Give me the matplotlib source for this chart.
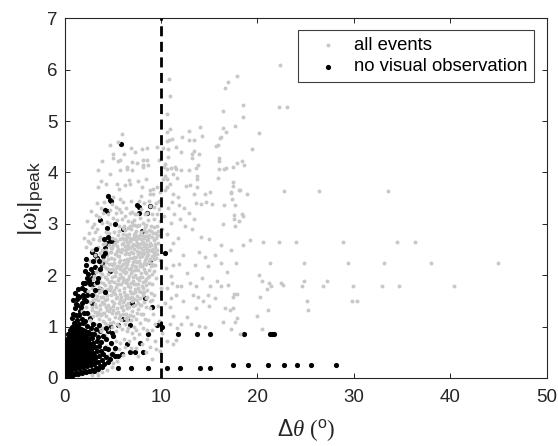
import numpy as np
import matplotlib
matplotlib.use("Agg")
import matplotlib.pyplot as plt

plt.rcParams["font.family"] = ["Liberation Sans", "DejaVu Sans"]
plt.rcParams["mathtext.fontset"] = "custom"
plt.rcParams["mathtext.rm"] = "Liberation Sans"
plt.rcParams["mathtext.it"] = "Liberation Serif:italic"
plt.rcParams["mathtext.fallback"] = "stix"

# -------------------------------------------------
# values, (delta theta, |omega|)
# -------------------------------------------------
grey_sparse = [
    (44.95, 2.24), (40.35, 1.79), (37.96, 2.24), (36.37, 2.64), (34.46, 2.64), (34.7, 1.79),
    (32.94, 1.79), (33.08, 2.24), (33.53, 3.64), (30.38, 1.5), (29.83, 1.5), (29.9, 1.79),
    (29.41, 2.24), (28.89, 2.64), (27.27, 1.88), (26.78, 1.79), (26.4, 3.64), (24.84, 1.88),
    (24.64, 1.79), (24.81, 2.24), (25.12, 1.5), (25.22, 1.32), (24.01, 2.64), (22.28, 2.64),
    (20.62, 2.64), (19.24, 2.69), (18.48, 2.58), (17.23, 2.49), (16.2, 2.58), (22.73, 3.64),
    (18.96, 3.58), (18.1, 3.65), (17.27, 3.61), (17.34, 3.49), (17.72, 3.37), (16.5, 3.36),
    (18.37, 3.2), (18.48, 3.15), (17.58, 3.17), (17.58, 3.1), (18.1, 3.06), (16.47, 2.99),
    (17.68, 2.95), (17.75, 2.24), (21.28, 2.24), (16.2, 2.24), (16.89, 2.06), (20.14, 2.0),
    (20.48, 1.88), (21.25, 1.84), (21.45, 1.79), (21.0, 1.73), (22.46, 1.84), (22.63, 1.81),
    (20.28, 1.58), (17.92, 1.64), (17.58, 1.64), (17.47, 1.58), (16.92, 1.81), (16.2, 1.79),
    (21.1, 1.32), (16.66, 1.36), (17.2, 1.32), (17.5, 1.36), (19.97, 1.2), (17.92, 1.16),
    (17.72, 1.09), (16.44, 1.09), (17.3, 0.95), (20.45, 0.95), (18.2, 0.86),
    (22.35, 6.09), (17.9, 5.87), (17.0, 5.77), (16.6, 5.65), (18.55, 5.32), (16.47, 5.19),
    (22.2, 5.27), (23.05, 5.27), (18.55, 5.08), (17.65, 4.9), (16.47, 4.87), (16.78, 4.78),
    (16.2, 4.69), (20.2, 4.77), (19.45, 4.45), (18.37, 4.23), (17.9, 4.18), (17.5, 4.1),
    (16.74, 4.08), (18.6, 4.14), (17.5, 3.81), (17.5, 3.74), (18.15, 3.66), (17.3, 3.6),
]

grey_upper = [
    (10.8, 5.81), (10.95, 5.49), (10.64, 5.13), (10.6, 4.79), (10.95, 4.85), (12.9, 4.8),
    (14.1, 4.88), (14.27, 4.7), (12.23, 4.69), (12.86, 4.63), (13.44, 4.63), (10.88, 4.63),
    (11.1, 4.65), (10.67, 4.61), (16.14, 4.67), (15.9, 4.54), (15.69, 4.51), (9.57, 4.5),
    (10.26, 4.48), (10.74, 4.45), (11.6, 4.5), (12.1, 4.39), (10.74, 4.3), (13.41, 4.41),
    (13.17, 4.35), (13.99, 4.35), (13.2, 4.28), (16.04, 4.28), (16.07, 4.22), (16.0, 4.07),
    (16.55, 4.07), (15.87, 3.89), (5.97, 4.75), (5.55, 4.6), (4.72, 4.54), (6.87, 4.48),
    (8.08, 4.45), (8.6, 4.48), (5.07, 4.35), (6.18, 4.36), (7.32, 4.39), (5.03, 4.28),
    (3.89, 4.22), (5.58, 4.22), (5.8, 4.24), (7.0, 4.2), (7.49, 4.19), (8.15, 4.25),
    (8.6, 4.25), (8.1, 4.15), (8.7, 4.14), (8.1, 4.1), (3.44, 4.05), (5.76, 4.04),
    (6.45, 4.1), (6.53, 4.06), (6.97, 4.04), (4.72, 3.97), (10.36, 4.1), (10.6, 4.07),
    (11.0, 4.09), (11.44, 4.1), (11.54, 4.06), (12.05, 4.05), (12.9, 4.04), (13.6, 4.09),
    (13.86, 4.15), (9.85, 4.24), (10.43, 4.17), (11.3, 3.97), (11.65, 3.9), (13.7, 3.94),
    (13.75, 3.88), (10.43, 3.94), (10.6, 3.87), (10.26, 3.87), (7.63, 3.83), (8.4, 3.87),
    (6.66, 3.86), (3.82, 3.84), (4.3, 3.78), (3.5, 3.71), (5.42, 3.78), (6.8, 3.78),
    (6.3, 3.75), (5.6, 3.68), (8.0, 3.71), (8.87, 3.65), (9.2, 3.68), (9.64, 3.71),
    (9.9, 3.61), (10.43, 3.65), (10.95, 3.78), (10.6, 3.71), (12.6, 3.73), (13.0, 3.75),
    (13.4, 3.58), (13.75, 3.71), (14.6, 3.59), (15.1, 3.61), (11.3, 3.58), (5.07, 3.52),
    (5.76, 3.49), (7.94, 3.55), (8.87, 3.58), (9.2, 3.58), (11.8, 3.52), (13.6, 3.4),
    (14.2, 3.38), (14.7, 3.42), (15.3, 3.38), (11.1, 3.42), (11.9, 3.36), (12.4, 3.3),
    (12.9, 3.22), (13.4, 3.1), (12.0, 3.1), (11.4, 3.2), (10.7, 3.3), (10.3, 3.15),
    (11.0, 3.02), (12.5, 2.95), (13.2, 2.9), (15.0, 2.7), (14.2, 2.75), (11.8, 2.72),
    (11.2, 2.62), (10.6, 2.8), (10.9, 2.5), (12.3, 2.4), (13.9, 2.45), (14.6, 2.35),
    (14.9, 2.18), (15.6, 2.4), (13.5, 2.2), (11.3, 2.2), (11.9, 2.22), (12.7, 2.05),
    (10.5, 2.15), (11.0, 1.98), (13.0, 1.85), (13.6, 1.8), (14.3, 1.95), (15.1, 1.8),
    (15.8, 1.88), (11.1, 1.85), (11.7, 1.8), (12.1, 1.8), (10.6, 1.75), (13.3, 1.62),
    (13.8, 1.58), (14.4, 1.5), (14.9, 1.62), (15.6, 1.55), (11.0, 1.55), (11.6, 1.62),
    (12.3, 1.5), (10.4, 1.45), (10.9, 1.38), (13.6, 1.36), (15.0, 1.4), (11.3, 1.2),
    (12.7, 1.18), (12.1, 1.06), (13.1, 1.06), (13.9, 1.02), (14.6, 1.0), (10.9, 1.05),
    (11.7, 0.98), (10.1, 0.87), (10.6, 0.72), (11.2, 0.66), (11.6, 0.74), (9.4, 0.72),
]

grey_cloud = [
    (2.3, 3.05), (2.7, 3.25), (3.1, 3.0), (3.4, 3.4), (3.8, 3.3), (4.1, 3.42),
    (4.5, 3.2), (4.9, 3.38), (5.3, 3.32), (5.7, 3.28), (6.1, 3.42), (6.4, 3.3), (6.9, 3.45),
    (7.3, 3.2), (7.7, 3.45), (8.2, 3.4), (8.6, 3.22), (8.9, 3.35), (9.3, 3.32), (9.6, 3.2),
    (9.8, 3.45), (2.0, 2.72), (2.5, 2.82), (3.0, 2.7), (3.4, 2.9), (3.7, 2.75), (3.9, 3.02),
    (4.3, 2.85), (4.7, 3.0), (5.1, 2.85), (5.4, 3.08), (5.7, 2.95), (6.0, 3.1), (6.3, 2.88),
    (6.6, 3.05), (6.9, 2.9), (7.2, 3.08), (7.5, 2.95), (7.8, 3.12), (8.1, 3.02), (8.4, 2.98),
    (8.7, 3.08), (9.0, 2.95), (9.3, 3.1), (9.6, 2.95), (9.9, 3.05), (10.1, 2.9), (9.8, 2.78),
    (9.5, 2.72), (9.2, 2.82), (8.8, 2.78), (8.5, 2.85), (8.2, 2.72), (7.9, 2.85), (7.6, 2.72),
    (7.3, 2.82), (7.0, 2.7), (6.7, 2.8), (6.4, 2.68), (6.1, 2.8), (5.8, 2.7), (5.5, 2.78),
    (5.2, 2.62), (4.9, 2.72), (4.6, 2.58), (4.2, 2.62), (3.9, 2.5), (3.5, 2.55), (3.2, 2.4),
    (2.8, 2.5), (2.2, 2.55), (4.0, 2.3), (4.4, 2.4), (4.8, 2.45), (5.1, 2.32),
    (5.4, 2.48), (5.7, 2.38), (6.0, 2.52), (6.3, 2.42), (6.6, 2.55), (6.9, 2.45), (7.2, 2.58),
    (7.5, 2.48), (7.8, 2.6), (8.1, 2.5), (8.4, 2.6), (8.7, 2.5), (9.0, 2.58), (9.3, 2.45),
    (9.6, 2.5), (8.9, 2.32), (8.6, 2.38), (8.3, 2.3), (8.0, 2.38), (7.7, 2.28), (7.4, 2.36),
    (7.1, 2.25), (6.8, 2.33), (6.5, 2.22), (6.2, 2.3), (5.9, 2.18), (5.6, 2.26), (5.3, 2.15),
    (5.0, 2.2), (4.7, 2.1), (4.3, 2.15), (3.9, 2.02), (3.5, 2.12), (3.1, 1.98),
    (2.4, 1.7), (2.8, 1.75), (3.2, 1.82),
    (3.6, 1.78), (4.0, 1.85), (4.4, 1.92), (4.8, 1.88), (5.2, 1.98), (5.5, 1.9), (5.8, 2.02),
    (6.1, 1.95), (6.4, 2.06), (6.7, 1.98), (7.0, 2.08), (7.3, 2.0), (7.6, 2.1), (7.9, 2.05),
    (8.2, 2.12), (8.5, 2.04), (8.8, 2.1), (8.3, 1.88), (8.0, 1.8), (7.7, 1.9), (7.4, 1.82),
    (7.1, 1.88), (6.8, 1.78), (6.5, 1.85), (6.2, 1.75), (5.9, 1.82), (5.6, 1.72), (5.3, 1.78),
    (5.0, 1.68), (4.7, 1.72), (4.4, 1.62), (4.1, 1.68), (3.8, 1.58), (3.4, 1.6), (3.0, 1.52),
    (2.6, 1.48), (2.2, 1.38), (1.8, 1.3), (1.4, 1.2), (2.5, 1.25),
    (2.9, 1.32), (3.3, 1.38), (3.7, 1.35), (4.1, 1.44), (4.5, 1.42), (4.9, 1.5), (5.3, 1.55),
    (5.6, 1.46), (5.9, 1.58), (6.2, 1.52), (6.5, 1.62), (6.8, 1.55), (7.1, 1.65), (7.5, 1.6),
    (7.8, 1.55), (8.1, 1.62), (8.6, 1.72), (9.1, 1.82), (9.5, 1.95), (9.4, 2.2), (9.9, 2.3),
    (7.6, 1.35), (7.3, 1.42), (7.0, 1.3), (6.7, 1.38), (6.4, 1.25), (6.1, 1.32), (5.8, 1.22),
    (5.5, 1.28), (5.2, 1.18), (4.9, 1.26), (4.6, 1.15), (4.3, 1.2), (4.0, 1.1), (3.6, 1.14),
    (3.2, 1.06), (2.8, 1.08), (3.0, 0.9), (3.4, 0.86), (3.8, 0.92), (4.2, 0.84),
    (4.5, 0.96), (4.9, 1.0), (5.3, 0.92), (5.7, 1.02), (6.0, 0.95), (6.3, 1.05), (6.6, 0.98),
    (6.9, 1.12), (7.2, 1.0), (7.4, 1.15), (7.9, 1.25), (8.4, 1.38), (8.9, 1.5), (9.3, 1.62),
    (9.7, 1.4), (9.2, 1.25), (8.7, 1.12), (8.1, 0.98), (7.7, 0.86), (7.2, 0.78), (6.7, 0.72),
    (6.2, 0.76), (5.8, 0.68), (5.3, 0.72), (4.8, 0.66), (4.3, 0.62), (5.1, 0.52), (5.6, 0.56),
    (6.3, 0.6), (4.6, 0.44), (3.9, 0.12), (3.4, 0.11), (2.9, 0.06), (3.5, 0.06), (4.4, 0.16),
    (4.9, 0.22), (5.0, 0.3), (8.9, 0.6), (8.6, 0.76),
    (8.0, 0.66), (9.9, 0.52), (9.5, 0.56), (8.4, 0.5), (7.4, 0.58), (9.8, 1.1), (10.0, 1.75),
    (7.23, 2.73), (7.54, 2.63), (8.24, 2.88), (6.63, 2.61), (6.82, 2.96), (5.42, 2.57), (4.53, 2.31),
    (6.03, 2.63), (7.91, 2.43), (7.44, 2.16), (6.72, 2.13), (6.04, 2.09), (5.23, 2.06), (6.41, 1.91),
    (7.62, 2.74), (8.03, 2.63), (8.61, 2.71), (7.02, 2.56), (6.33, 2.16), (5.52, 2.37), (4.92, 1.96),
    (4.23, 1.81), (3.63, 1.43), (3.03, 1.63), (4.62, 1.86), (5.04, 1.41), (5.73, 1.63), (6.34, 1.43),
    (6.93, 1.66), (7.64, 1.76), (8.34, 2.21), (8.83, 2.49), (9.24, 2.69), (7.22, 2.35), (6.52, 2.43),
]

grey_core = [
    (4.12, 1.27), (4.37, 1.53), (4.58, 1.31), (4.83, 1.61), (5.07, 1.33), (5.19, 1.63), (5.44, 1.37),
    (5.72, 1.52), (5.94, 1.41), (6.13, 1.67), (6.38, 1.56), (6.61, 1.46), (6.77, 1.7), (7.02, 1.49),
    (7.27, 1.74), (7.48, 1.51), (7.71, 1.69), (7.96, 1.43), (8.17, 1.76), (8.42, 1.55), (8.73, 1.84),
    (8.96, 1.66), (4.17, 1.96), (4.46, 2.03), (4.68, 1.79), (4.96, 2.12), (5.12, 1.87), (5.37, 2.07),
    (5.63, 1.83), (5.77, 2.12), (6.02, 1.88), (6.27, 2.04), (6.56, 1.93), (6.86, 2.04), (7.12, 1.96),
    (7.36, 2.11), (7.53, 1.94), (7.83, 2.17), (8.07, 1.96), (8.37, 2.06), (8.66, 1.96), (8.93, 2.18),
    (9.12, 2.02), (4.26, 2.26), (4.59, 2.22), (4.87, 2.33), (5.16, 2.24), (5.33, 2.41), (5.64, 2.18),
    (5.83, 2.46), (6.08, 2.21), (6.23, 2.49), (6.43, 2.31), (6.72, 2.41), (6.97, 2.2), (7.14, 2.44),
    (7.33, 2.27), (7.57, 2.41), (7.84, 2.22), (8.13, 2.42), (8.42, 2.21), (8.52, 2.47), (8.77, 2.26),
    (9.03, 2.37), (9.18, 2.2), (9.47, 2.33), (4.78, 2.53), (5.03, 2.58), (5.27, 2.71), (5.58, 2.52),
    (5.92, 2.6), (6.17, 2.71), (6.47, 2.52), (6.78, 2.66), (7.08, 2.61), (7.38, 2.69), (7.67, 2.54),
    (7.93, 2.71), (8.27, 2.56), (8.53, 2.69), (8.86, 2.62), (9.14, 2.51), (9.42, 2.61), (9.73, 2.63),
    (5.62, 2.87), (6.22, 2.96), (6.52, 2.74), (7.12, 2.98), (7.43, 2.87), (7.74, 2.97), (8.02, 2.79),
    (8.33, 2.94), (8.62, 2.77), (8.97, 2.86), (9.33, 2.93), (9.72, 2.87), (2.62, 1.12), (2.97, 1.21),
    (3.13, 1.44), (3.36, 1.22), (3.47, 1.51), (3.72, 1.24), (3.86, 1.47), (3.97, 1.27), (4.22, 1.52),
    (4.04, 0.97), (4.36, 1.04), (4.73, 1.07), (5.06, 1.09), (5.42, 1.06), (5.89, 1.12), (6.24, 1.16),
    (6.53, 1.13), (6.82, 1.23), (7.13, 1.21), (7.52, 1.26), (7.83, 1.42), (8.26, 1.47), (8.56, 1.58),
    (8.83, 1.36), (9.07, 1.52), (3.26, 1.71), (3.64, 1.96), (3.73, 1.69), (3.93, 1.74), (3.42, 2.32),
    (3.77, 2.24), (3.66, 2.43), (4.06, 2.47), (4.37, 2.72), (4.64, 2.83), (3.07, 2.26), (2.62, 2.28),
    (2.44, 2.67), (2.86, 2.93), (3.26, 3.18), (3.62, 3.13), (3.98, 3.22), (4.36, 3.04), (4.72, 3.27),
    (5.04, 3.12), (5.36, 3.21), (5.91, 3.24), (6.26, 3.16), (6.74, 3.22), (7.04, 3.24), (7.56, 3.19),
    (7.94, 3.28), (8.33, 3.19), (8.77, 3.44), (9.12, 3.2), (9.47, 3.41), (9.84, 3.28), (6.47, 0.92),
    (7.03, 0.88), (7.44, 0.94), (7.87, 1.08), (8.37, 1.14), (8.14, 1.24), (9.43, 1.06), (9.07, 0.94),
    (8.58, 0.94), (6.92, 0.58), (6.02, 0.44), (5.47, 0.34), (7.66, 0.42), (9.1, 0.37),
]

grey_fill = [
    (4.52, 1.73), (4.84, 1.78), (5.13, 1.71), (5.41, 1.82), (5.68, 1.95), (5.97, 1.97), (6.24, 1.86),
    (6.62, 1.79), (6.94, 1.84), (7.21, 1.82), (7.58, 1.83), (7.87, 1.97), (8.16, 1.87), (8.48, 1.92),
    (8.78, 1.99), (9.24, 2.09), (9.33, 2.31), (4.48, 2.13), (4.81, 2.22), (5.08, 2.11), (5.46, 2.17),
    (5.74, 2.29), (6.14, 2.13), (6.37, 2.24), (6.63, 2.28), (6.92, 2.14), (7.06, 2.33), (7.27, 2.17),
    (7.52, 2.26), (7.78, 2.36), (8.02, 2.17), (8.22, 2.24), (8.47, 2.33), (8.71, 2.42), (8.98, 2.24),
    (9.27, 2.39), (9.56, 2.41), (4.67, 2.46), (4.94, 2.53), (5.24, 2.42), (5.47, 2.66), (5.74, 2.47),
    (5.97, 2.73), (6.28, 2.57), (6.51, 2.64), (6.84, 2.53), (7.16, 2.51), (7.47, 2.56), (7.72, 2.46),
    (7.98, 2.53), (8.23, 2.43), (8.47, 2.53), (8.76, 2.57), (9.07, 2.47), (9.36, 2.54), (9.54, 2.78),
    (6.83, 2.73), (7.17, 2.79), (7.48, 2.76), (7.78, 2.78), (8.14, 2.65), (8.38, 2.77), (8.72, 2.88),
    (9.07, 2.74), (9.37, 2.83), (6.38, 2.79), (6.04, 2.91), (6.58, 2.92), (6.96, 3.03), (7.36, 2.97),
    (3.72, 1.87), (4.03, 1.58), (4.32, 1.72), (4.27, 1.38), (4.76, 1.36), (5.16, 1.46), (5.47, 1.57),
    (5.83, 1.38), (6.04, 1.48), (6.27, 1.62), (6.48, 1.37), (6.68, 1.56), (6.97, 1.57), (7.23, 1.53),
    (7.36, 1.67), (7.66, 1.46), (7.94, 1.67), (8.26, 1.68), (8.47, 1.81), (3.83, 1.22), (4.44, 1.33),
    (5.32, 1.26), (5.67, 1.16), (6.02, 1.24), (6.62, 1.18), (7.08, 1.4), (3.56, 0.97), (4.17, 1.07),
    (3.14, 1.28), (3.48, 1.29), (2.82, 1.38), (3.18, 1.54), (3.53, 1.68), (2.96, 1.92), (3.28, 2.07),
    (3.73, 2.06), (4.12, 2.18), (3.97, 2.61), (4.32, 2.5), (2.66, 2.63), (3.18, 2.85), (3.56, 2.68),
]

black_sparse = [
    (5.87, 4.56), (4.55, 3.55), (4.72, 3.47), (4.79, 3.45), (4.2, 3.26), (4.45, 3.25), (7.56, 3.36),
    (7.73, 3.33), (8.87, 3.34), (7.75, 3.21), (8.53, 3.21), (3.72, 3.08), (5.24, 3.0), (6.1, 2.89),
    (4.38, 2.92), (8.0, 2.86), (4.72, 2.66), (4.38, 2.63), (5.07, 2.66), (4.2, 2.53), (2.89, 2.45),
    (3.17, 2.4), (4.03, 2.37), (3.34, 2.34), (3.86, 2.24), (10.43, 2.44), (8.87, 2.25), (2.2, 2.19),
    (3.17, 2.16), (3.86, 2.19), (4.72, 2.09), (2.13, 2.08), (3.0, 2.05), (2.82, 1.95), (2.3, 1.95),
    (1.96, 1.85), (2.65, 1.82), (3.0, 1.82), (3.69, 1.73), (1.78, 1.75), (2.13, 1.72), (1.09, 1.66),
    (1.44, 1.59), (0.92, 1.51), (1.26, 1.53), (1.78, 1.46), (2.82, 1.45), (8.36, 1.56), (9.05, 1.38),
    (6.97, 1.46), (0.92, 1.25), (1.6, 1.3), (1.78, 1.14), (2.13, 1.1), (2.65, 1.17), (0.74, 1.0),
    (6.1, 1.15), (6.45, 1.14), (4.72, 1.02), (5.59, 1.03), (6.8, 1.03), (9.57, 1.04), (9.9, 1.07),
    (10.1, 0.99), (8.7, 0.86), (11.78, 0.86), (13.7, 0.86), (15.04, 0.86), (4.55, 0.91), (4.9, 0.88),
    (5.07, 0.81), (3.69, 0.91), (6.8, 0.51), (7.32, 0.51), (8.18, 0.51), (7.84, 0.68), (6.45, 0.67),
    (5.93, 0.47), (5.59, 0.42), (5.52, 0.19), (6.9, 0.19), (8.7, 0.19), (10.6, 0.19), (12.0, 0.19),
    (14.06, 0.19), (15.04, 0.19), (17.47, 0.25), (19.0, 0.25), (21.07, 0.25), (22.77, 0.25),
    (24.15, 0.25), (25.6, 0.25), (28.17, 0.25), (18.58, 0.86), (21.3, 0.86), (21.5, 0.86), (21.76, 0.86),
]

black_fringe = [
    (1.12, 1.36), (1.34, 1.42), (1.53, 1.58), (1.67, 1.38), (2.04, 1.54), (2.36, 1.62), (2.52, 1.88),
    (2.72, 2.12), (2.94, 2.28), (3.28, 2.52), (3.53, 2.27), (4.12, 2.71), (1.32, 1.12), (1.54, 1.05),
    (2.36, 1.27), (2.94, 1.06), (3.23, 0.96), (3.97, 0.82), (4.32, 0.76), (4.77, 0.68), (5.22, 0.58),
    (3.62, 1.03), (4.27, 0.98), (4.17, 1.68), (3.34, 1.87), (2.24, 1.49), (1.24, 1.22), (1.02, 1.08),
    (1.42, 1.74), (1.88, 1.62), (2.12, 1.84), (2.46, 2.02), (2.06, 1.26), (2.27, 2.31), (2.84, 1.62),
    (3.12, 1.72), (3.47, 1.94), (3.68, 2.12), (4.22, 2.44), (4.53, 2.74), (1.52, 1.22), (1.97, 1.08),
    (2.33, 1.02), (2.77, 0.98), (3.04, 0.86), (3.52, 0.79), (3.83, 0.7), (4.52, 0.56), (4.18, 0.58),
    (4.94, 0.46), (5.24, 0.43), (1.18, 1.44), (0.82, 1.16), (1.17, 1.02),
]

black_corner = [
    (0.1, 0.03), (0.3, 0.04), (0.6, 0.06), (0.9, 0.08), (1.3, 0.1), (1.7, 0.11), (2.1, 0.13),
    (2.5, 0.14), (2.9, 0.16), (3.3, 0.2), (3.7, 0.24), (4.1, 0.27), (4.5, 0.32), (0.15, 0.12),
    (0.4, 0.14), (0.7, 0.16), (1.1, 0.18), (1.5, 0.2), (1.9, 0.22), (2.3, 0.24), (2.7, 0.25),
    (3.1, 0.28), (3.5, 0.32), (3.9, 0.36), (4.3, 0.4), (4.7, 0.37), (0.1, 0.22), (0.35, 0.25),
    (0.65, 0.27), (0.95, 0.29), (1.3, 0.3), (1.7, 0.32), (2.05, 0.33), (2.45, 0.35), (2.85, 0.37),
    (3.2, 0.39), (3.6, 0.43), (4.0, 0.46), (0.15, 0.33), (0.45, 0.35), (0.8, 0.37), (1.15, 0.39),
    (1.5, 0.41), (1.85, 0.42), (2.25, 0.44), (2.6, 0.46), (3.0, 0.48), (3.35, 0.52), (3.75, 0.53),
    (0.1, 0.44), (0.35, 0.46), (0.7, 0.47), (1.0, 0.49), (1.35, 0.5), (1.7, 0.52), (2.05, 0.53),
    (2.4, 0.55), (2.8, 0.58), (3.15, 0.6), (3.55, 0.62), (0.2, 0.55), (0.5, 0.56), (0.85, 0.58),
    (1.2, 0.59), (1.55, 0.6), (1.9, 0.62), (2.25, 0.64), (2.65, 0.66), (3.0, 0.68), (3.4, 0.72),
    (0.1, 0.65), (0.4, 0.66), (0.75, 0.67), (1.05, 0.69), (1.4, 0.7), (1.75, 0.71), (2.1, 0.73),
    (2.5, 0.75), (2.9, 0.77), (0.25, 0.75), (0.55, 0.76), (0.9, 0.77), (1.25, 0.78), (1.6, 0.8),
    (1.95, 0.82), (2.3, 0.83), (2.7, 0.86), (0.35, 0.85), (0.7, 0.86), (1.05, 0.87), (1.4, 0.88),
    (1.75, 0.9), (2.1, 0.92), (2.45, 0.9), (0.6, 0.94), (1.0, 0.96), (1.35, 0.97), (1.7, 0.96),
    (0.05, 0.08), (0.05, 0.18), (0.05, 0.28), (0.05, 0.38), (0.05, 0.5), (0.05, 0.6), (0.2, 0.02),
    (0.45, 0.03), (0.8, 0.04), (1.1, 0.07), (1.45, 0.08), (1.85, 0.1), (2.25, 0.11), (2.65, 0.13),
    (3.05, 0.14), (3.5, 0.18), (3.9, 0.22), (0.25, 0.18), (0.55, 0.2), (0.85, 0.22), (1.2, 0.24),
    (1.6, 0.26), (2.0, 0.27), (2.35, 0.29), (2.75, 0.31), (3.1, 0.33), (0.25, 0.29), (0.55, 0.31),
    (0.9, 0.33), (1.25, 0.35), (1.6, 0.36), (1.95, 0.38), (2.35, 0.4), (2.75, 0.42), (3.1, 0.44),
    (0.25, 0.4), (0.6, 0.41), (0.95, 0.43), (1.25, 0.45), (1.6, 0.46), (1.95, 0.48), (2.3, 0.5),
    (2.7, 0.52), (0.3, 0.51), (0.65, 0.52), (0.95, 0.54), (1.3, 0.55), (1.65, 0.57), (2.0, 0.58),
    (2.35, 0.6), (2.75, 0.62), (0.3, 0.61), (0.65, 0.62), (0.95, 0.64), (1.3, 0.65), (1.65, 0.66),
    (2.0, 0.68), (2.4, 0.7), (0.2, 0.7), (0.55, 0.71), (0.85, 0.72), (1.2, 0.74), (1.55, 0.75),
    (1.9, 0.77), (2.2, 0.78), (0.5, 0.81), (0.85, 0.82), (1.15, 0.83), (1.5, 0.84), (1.85, 0.86),
    (2.2, 0.87), (0.85, 0.91), (1.2, 0.92), (1.5, 0.93), (1.9, 0.93),
]

label_all = "all events"
label_none = "no visual observation"
boundary = [10, 10]
boundary_y = [0, 7]

all_pts = np.array(grey_sparse + grey_upper + grey_cloud + grey_core + grey_fill)
black_pts = np.array(black_sparse)
black_top = np.array(black_fringe + black_corner)

W, H = 558, 446
fig = plt.figure(figsize=(W / 100, H / 100), dpi=100)
ax = fig.add_axes([64.5 / W, 1 - 378 / H, (546.7 - 64.5) / W, (378 - 18.3) / H])

ax.scatter(black_pts[:, 0], black_pts[:, 1], s=14, color="black", linewidths=0, zorder=2, label=label_none)
ax.scatter(all_pts[:, 0], all_pts[:, 1], s=8, color="#c8c8c8", linewidths=0, zorder=3, label=label_all)
ax.scatter(black_top[:, 0], black_top[:, 1], s=14, color="black", linewidths=0, zorder=3.5)
ax.plot(boundary, boundary_y, color="black", lw=2.0, dashes=(3.6, 2.0), zorder=4)

ax.set_xlim(0, 50)
ax.set_ylim(0, 7)
ax.set_xticks(range(0, 51, 10))
ax.set_yticks(range(0, 8))
ax.tick_params(direction="in", top=True, right=True, length=3.5, width=0.7, labelsize=13.5,
               colors="#262626")
ax.tick_params(axis="x", pad=8)
ax.tick_params(axis="y", pad=5)
for s in ax.spines.values():
    s.set_linewidth(0.8)
    s.set_color("#262626")

ax.set_xlabel(r"$\Delta\theta$ ($^{\mathrm{o}}$)", fontsize=16.5, color="#262626", labelpad=8,
              family="Liberation Serif")
ax.set_ylabel(r"$|\omega_{\mathrm{i}}|_{\mathrm{peak}}$", fontsize=18, color="#262626", labelpad=1)

handles, labels = ax.get_legend_handles_labels()
leg = ax.legend(handles[::-1], labels[::-1], loc="upper right", bbox_to_anchor=(0.9736, 0.9665),
                borderaxespad=0, fancybox=False, framealpha=1, edgecolor="#404040",
                fontsize=13.3, labelspacing=0.25, handletextpad=0.16, borderpad=0.35,
                handlelength=2.55, markerscale=1.0)
leg.get_frame().set_linewidth(0.8)
leg.set_zorder(5)

fig.savefig("out.png", dpi=100)
